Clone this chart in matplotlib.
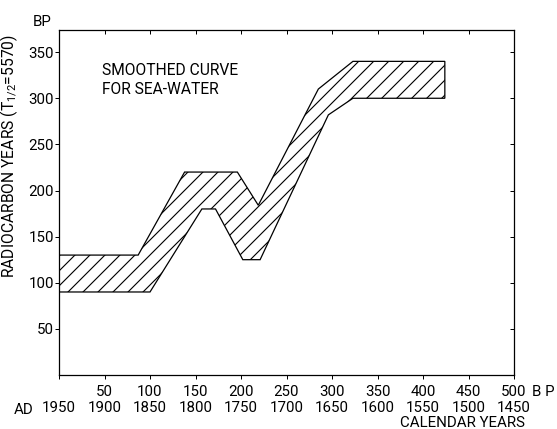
import numpy as np
import matplotlib
matplotlib.use('Agg')
from matplotlib import pyplot as plt

plt.rcParams['font.family'] = ['Roboto', 'DejaVu Sans']
plt.rcParams['mathtext.fontset'] = 'custom'
plt.rcParams['mathtext.rm'] = 'Roboto'
plt.rcParams['hatch.linewidth'] = 0.9

# upper edge of the band (BP years -> radiocarbon years)
upper_x = [0, 87, 138, 196, 219, 285, 323, 424]
upper_y = [130, 130, 220, 220, 184, 310, 340, 340]
# lower edge
lower_x = [0, 100, 157, 172, 202, 221, 296, 323, 424]
lower_y = [90, 90, 180, 180, 125, 125, 282, 300, 300]

bp_ticks = [0, 50, 100, 150, 200, 250, 300, 350, 400, 450, 500]
cal_years = [1950, 1900, 1850, 1800, 1750, 1700, 1650, 1600, 1550, 1500, 1450]
y_ticks = [50, 100, 150, 200, 250, 300, 350]

fs = 12

fig = plt.figure(figsize=(557 / 90, 429 / 90), dpi=90)
ax = fig.add_axes([59 / 557, 1 - 375 / 429, 455 / 557, 345 / 429])

xs = np.concatenate([upper_x, lower_x[::-1]])
ys = np.concatenate([upper_y, lower_y[::-1]])
ax.fill(xs, ys, facecolor='none', edgecolor='black', hatch='//', linewidth=1.0)

ax.set_xlim(0, 500)
ax.set_ylim(0, 374)

ax.set_xticks(bp_ticks)
labels = []
for b, c in zip(bp_ticks, cal_years):
    if b == 0:
        labels.append(f'\n{c}')
    else:
        labels.append(f'{b}\n{c}')
ax.set_xticklabels(labels, fontsize=fs, linespacing=1.2)
ax.set_yticks(y_ticks)
ax.set_yticklabels([str(v) for v in y_ticks], fontsize=fs)
ax.tick_params(direction='out', length=3, width=0.8, pad=1)
ax.tick_params(axis='x', pad=5)

top = ax.secondary_xaxis('top')
top.set_xticks(bp_ticks[1:])
top.tick_params(direction='in', length=3, labeltop=False)
right = ax.secondary_yaxis('right')
right.set_yticks(y_ticks)
right.tick_params(direction='in', length=3, labelright=False)

for sp in ax.spines.values():
    sp.set_linewidth(1.0)

ax.set_ylabel('RADIOCARBON YEARS (T$_{1/2}$=5570)', fontsize=12.5)
ax.yaxis.set_label_coords(-0.085, 0.635)

ax.text(47, 320, 'SMOOTHED CURVE\nFOR SEA-WATER', fontsize=12.5,
        ha='left', va='center', linespacing=1.3)

fig.text(42 / 557, 1 - 22 / 429, 'BP', fontsize=fs, ha='center', va='center')
fig.text(543 / 557, 1 - 392 / 429, 'B P', fontsize=fs, ha='center', va='center')
fig.text(24 / 557, 1 - 410 / 429, 'AD', fontsize=fs, ha='center', va='center')
fig.text(463 / 557, 1 - 423 / 429, 'CALENDAR YEARS', fontsize=fs,
         ha='center', va='center')

fig.savefig('out.png', dpi=90)
